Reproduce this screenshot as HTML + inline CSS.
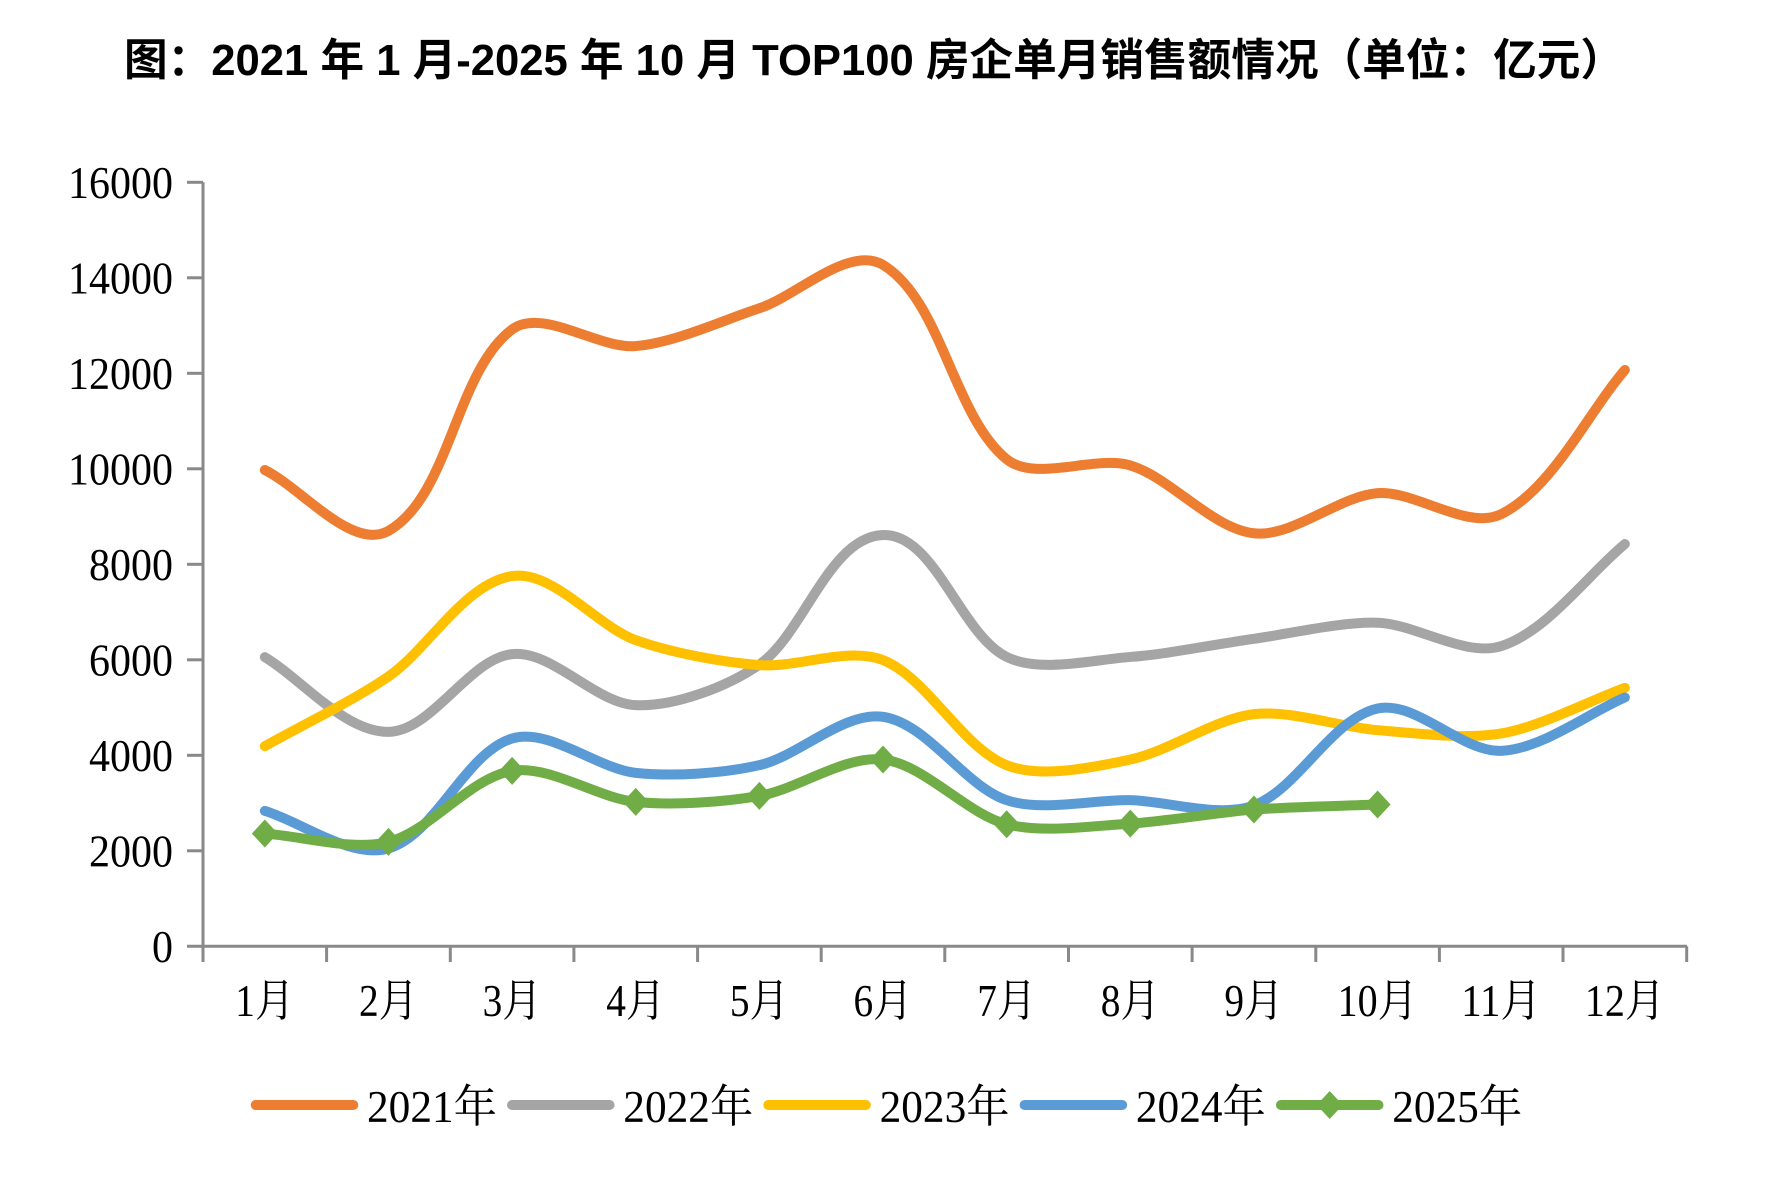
<!DOCTYPE html>
<html><head><meta charset="utf-8">
<style>
html,body{margin:0;padding:0;background:#fff;}
svg{display:block}
</style></head><body>
<svg id="c" width="1784" height="1196" viewBox="0 0 1784 1196" xmlns="http://www.w3.org/2000/svg">
<rect width="1784" height="1196" fill="#fff"/>
<text x="124" y="75" font-family="'Liberation Sans','Noto Sans CJK SC',sans-serif" font-weight="bold" font-size="44" textLength="1500" lengthAdjust="spacingAndGlyphs" fill="#000">图：2021 年 1 月-2025 年 10 月 TOP100 房企单月销售额情况（单位：亿元）</text>
<g id="axes" stroke="#898989" stroke-width="3" fill="none"></g>
<g id="ylab" font-family="'Liberation Serif','Noto Serif CJK SC',serif" font-size="45" fill="#000" text-anchor="end"></g>
<g id="xlab" font-family="'Liberation Serif','Noto Serif CJK SC',serif" font-size="45" fill="#000" text-anchor="middle"></g>
<g id="lines" fill="none" stroke-width="10" stroke-linecap="round" stroke-linejoin="round"></g>
<g id="legend" font-family="'Liberation Serif','Noto Serif CJK SC',serif" font-size="45" fill="#000"></g>
</svg>
<script>
(function(){
var NS="http://www.w3.org/2000/svg";
function el(tag,attrs,parent,text){var e=document.createElementNS(NS,tag);for(var k in attrs)e.setAttribute(k,attrs[k]);if(text!==undefined)e.textContent=text;parent.appendChild(e);return e;}
var X0=203,DX=123.64,Y0=946.3,S=95.5/2000;
function cx(i){return X0+DX*(i+0.5);}
function cy(v){return Y0-v*S;}
var axes=document.getElementById('axes');
el('path',{d:'M203 182.3V962'},axes);
el('path',{d:'M187 946.3H1687'},axes);
for(var k=1;k<=8;k++){var y=Y0-k*95.5;el('path',{d:'M187 '+y.toFixed(1)+'H203'},axes);}
for(var k=1;k<=12;k++){var x=X0+DX*k;el('path',{d:'M'+x.toFixed(1)+' 946.3V962'},axes);}
var ylab=document.getElementById('ylab');
for(var k=0;k<=8;k++){var v=String(k*2000);var y=Y0-k*95.5+15.5;
 el('text',{x:173,y:y.toFixed(1),textLength:v.length*21,lengthAdjust:'spacingAndGlyphs'},ylab,v);}
var xlab=document.getElementById('xlab');
for(var i=0;i<12;i++){var s=(i+1)+'月';var n=String(i+1).length;
 el('text',{x:cx(i).toFixed(1),y:1016,textLength:n*21+38,lengthAdjust:'spacingAndGlyphs'},xlab,s);}
var series=[
 ['#ED7D31',[9975,8700,12920,12570,13362,14270,10200,10070,8650,9490,9050,12070],false],
 ['#A5A5A5',[6056,4491,6119,5050,5900,8613,6060,6060,6440,6776,6287,8424],false],
 ['#FFC000',[4191,5650,7753,6412,5888,5993,3793,3912,4862,4526,4457,5413],false],
 ['#5B9BD5',[2836,2050,4352,3632,3793,4806,3060,3060,2950,4981,4093,5211],false],
 ['#70AD47',[2361,2186,3674,3024,3150,3912,2557,2570,2864,2969],true]
];
var lines=document.getElementById('lines');
function f(n){return n.toFixed(2);}
function diamond(x,y,fill,parent){
 el('polygon',{points:f(x)+','+f(y-14)+' '+f(x+13)+','+f(y)+' '+f(x)+','+f(y+14)+' '+f(x-13)+','+f(y),fill:fill,stroke:'none'},parent);
}
var K=0.3;
series.forEach(function(s){
 var pts=s[1].map(function(v,i){return [cx(i),cy(v)];});
 var n=pts.length;
 var tang=pts.map(function(p,i){
  var a=pts[Math.max(i-1,0)],b=pts[Math.min(i+1,n-1)];
  var dx=b[0]-a[0],dy=b[1]-a[1],L=Math.sqrt(dx*dx+dy*dy)||1;
  return [dx/L,dy/L];
 });
 var d='M'+f(pts[0][0])+','+f(pts[0][1]);
 for(var i=0;i<n-1;i++){
  var p1=pts[i],p2=pts[i+1];
  var sx=p2[0]-p1[0],sy=p2[1]-p1[1],L=Math.sqrt(sx*sx+sy*sy);
  var c1x=p1[0]+tang[i][0]*L*K,c1y=p1[1]+tang[i][1]*L*K;
  var c2x=p2[0]-tang[i+1][0]*L*K,c2y=p2[1]-tang[i+1][1]*L*K;
  d+=' C'+f(c1x)+','+f(c1y)+' '+f(c2x)+','+f(c2y)+' '+f(p2[0])+','+f(p2[1]);
 }
 el('path',{d:d,stroke:s[0]},lines);
 if(s[2]){pts.forEach(function(p){diamond(p[0],p[1],s[0],lines);});}
});
var leg=document.getElementById('legend');
var names=['2021年','2022年','2023年','2024年','2025年'];
for(var k=0;k<5;k++){
 var x0=250.7+256.3*k;
 el('path',{d:'M'+f(x0+5)+' 1105H'+f(x0+102.6),stroke:series[k][0],'stroke-width':10,'stroke-linecap':'round',fill:'none'},leg);
 if(series[k][2])diamond(x0+53.8,1105,series[k][0],leg);
 el('text',{x:f(x0+116.3),y:1122,textLength:130,lengthAdjust:'spacingAndGlyphs'},leg,names[k]);
}
})();
</script>
</body></html>
